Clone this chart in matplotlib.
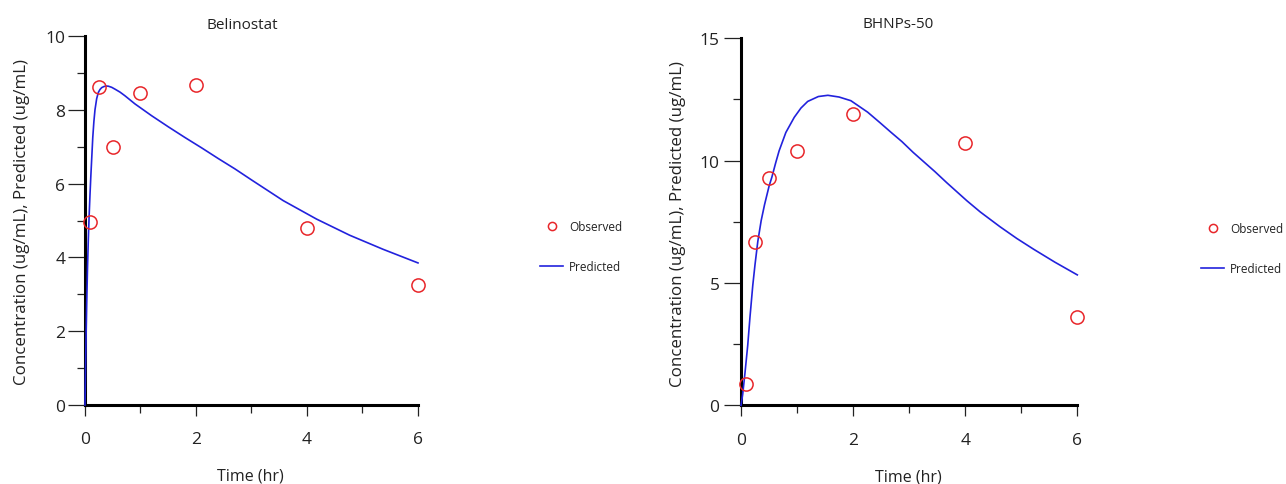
import matplotlib
matplotlib.use("Agg")
import matplotlib.pyplot as plt
from matplotlib.ticker import MultipleLocator

plt.rcParams['font.family'] = ['Open Sans', 'DejaVu Sans']

# ---------------- data ----------------
obs_time = [0.083, 0.25, 0.5, 1, 2, 4, 6]

beli_obs = [4.96, 8.63, 7.0, 8.45, 8.68, 4.81, 3.24]
beli_pred_t = [0, 0.01, 0.02, 0.03, 0.045, 0.06, 0.075, 0.09, 0.105, 0.12, 0.14,
               0.16, 0.18, 0.21, 0.24, 0.27, 0.3, 0.34, 0.38, 0.42, 0.48, 0.54,
               0.63, 0.72, 0.9, 1.2, 1.5, 1.8, 2.1, 2.4, 2.7, 3.0, 3.57, 4.17,
               4.77, 5.37, 6.0]
beli_pred = [0.0, 1.0, 1.9, 2.7, 3.7, 4.5, 5.15, 5.7, 6.2, 6.65, 7.25,
             7.68, 8.0, 8.3, 8.47, 8.55, 8.6, 8.63, 8.645, 8.64, 8.61, 8.56,
             8.48, 8.38, 8.16, 7.84, 7.54, 7.25, 6.97, 6.68, 6.40, 6.1, 5.54, 5.04,
             4.6, 4.22, 3.85]

bhnp_obs = [0.87, 6.66, 9.28, 10.38, 11.89, 10.72, 3.62]
bhnp_pred_t = [0, 0.03, 0.07, 0.12, 0.16, 0.21, 0.25, 0.3, 0.36, 0.42, 0.5, 0.55,
               0.62, 0.68, 0.8, 0.95, 1.07, 1.19, 1.38, 1.55, 1.75, 1.96, 2.26,
               2.48, 2.68, 2.87, 3.07, 3.46, 3.67, 4.03, 4.27, 4.62, 4.92, 5.22,
               5.6, 6.0]
bhnp_pred = [0.0, 0.45, 1.3, 2.45, 3.6, 4.9, 5.75, 6.7, 7.55, 8.2, 8.95, 9.32,
             9.92, 10.4, 11.15, 11.77, 12.15, 12.42, 12.62, 12.67, 12.6, 12.45, 11.98,
             11.55, 11.15, 10.78, 10.34, 9.55, 9.1, 8.36, 7.9, 7.3, 6.82, 6.38,
             5.85, 5.33]

titles = ["Belinostat", "BHNPs-50"]
ylabel = "Concentration (ug/mL), Predicted (ug/mL)"
xlabel = "Time (hr)"

RED = "#e8262a"
BLUE = "#2222dd"
TXT = "#222222"

W, H = 1286, 485
fig = plt.figure(figsize=(W / 100, H / 100), dpi=100)


def px_rect(x0, x1, ytop, ybot):
    return [x0 / W, (H - ybot) / H, (x1 - x0) / W, (ybot - ytop) / H]


panels = [
    dict(rect=px_rect(85, 418, 37, 406), obs=beli_obs, pt=beli_pred_t, pv=beli_pred,
         ymax=10, ymaj=2, ymin=1, title_x=242.5, title_pad=6,
         leg=(540, 247.5), ypad=1.6, ylab_x=30, ylab_y=0.499),
    dict(rect=px_rect(741, 1077.3, 39.3, 406.3), obs=bhnp_obs, pt=bhnp_pred_t, pv=bhnp_pred,
         ymax=15, ymaj=5, ymin=2.5, title_x=898, title_pad=8,
         leg=(1201, 249.5), ypad=3, ylab_x=686, ylab_y=0.497),
]

for i, p in enumerate(panels):
    ax = fig.add_axes(p['rect'])
    ax.plot(p['pt'], p['pv'], color=BLUE, lw=1.2, label="Predicted", clip_on=False,
            zorder=3, solid_joinstyle='round')
    ax.plot(obs_time, p['obs'], linestyle='none', marker='o', markersize=9.5,
            markerfacecolor='none', markeredgecolor=RED, markeredgewidth=1.1,
            label="Observed", clip_on=False, zorder=4)
    ax.set_xlim(0, 6)
    ax.set_ylim(0, p['ymax'])
    ax.xaxis.set_major_locator(MultipleLocator(2))
    ax.xaxis.set_minor_locator(MultipleLocator(1))
    ax.yaxis.set_major_locator(MultipleLocator(p['ymaj']))
    ax.yaxis.set_minor_locator(MultipleLocator(p['ymin']))
    for s in ['top', 'right']:
        ax.spines[s].set_visible(False)
    for s in ['left', 'bottom']:
        ax.spines[s].set_linewidth(2.2)
        ax.spines[s].set_color('black')
    ax.tick_params(axis='y', which='major', length=12.5, width=0.9, pad=p['ypad'],
                   labelsize=12.5, colors=TXT)
    ax.tick_params(axis='y', which='minor', length=6, width=0.9, colors=TXT)
    ax.tick_params(axis='x', which='major', length=8, width=0.9, pad=11,
                   labelsize=12.5, colors=TXT)
    ax.tick_params(axis='x', which='minor', length=6, width=0.9, colors=TXT)

    ax.set_xlabel(xlabel, fontsize=11.5, color=TXT)
    ax.set_ylabel(ylabel, fontsize=12.2, color=TXT)
    x0 = p['rect'][0] * W
    wpx = p['rect'][2] * W
    hpx = p['rect'][3] * H
    ax.xaxis.set_label_coords(0.498, (406 - 469) / hpx)
    ax.yaxis.set_label_coords((p['ylab_x'] - x0) / wpx, p['ylab_y'])
    ax.set_title(titles[i], fontsize=11, x=(p['title_x'] - x0) / wpx,
                 pad=p['title_pad'], color=TXT)

    h, l = ax.get_legend_handles_labels()
    lx, ly = p['leg']
    fig.legend([h[1], h[0]], [l[1], l[0]], loc='center left',
               bbox_to_anchor=(lx / W, (H - ly) / H), frameon=False,
               fontsize=8.5, handlelength=1.95, handletextpad=0.5,
               labelspacing=2.25, borderpad=0, borderaxespad=0, markerscale=0.62,
               labelcolor=TXT)

fig.savefig("out.png", dpi=100)
